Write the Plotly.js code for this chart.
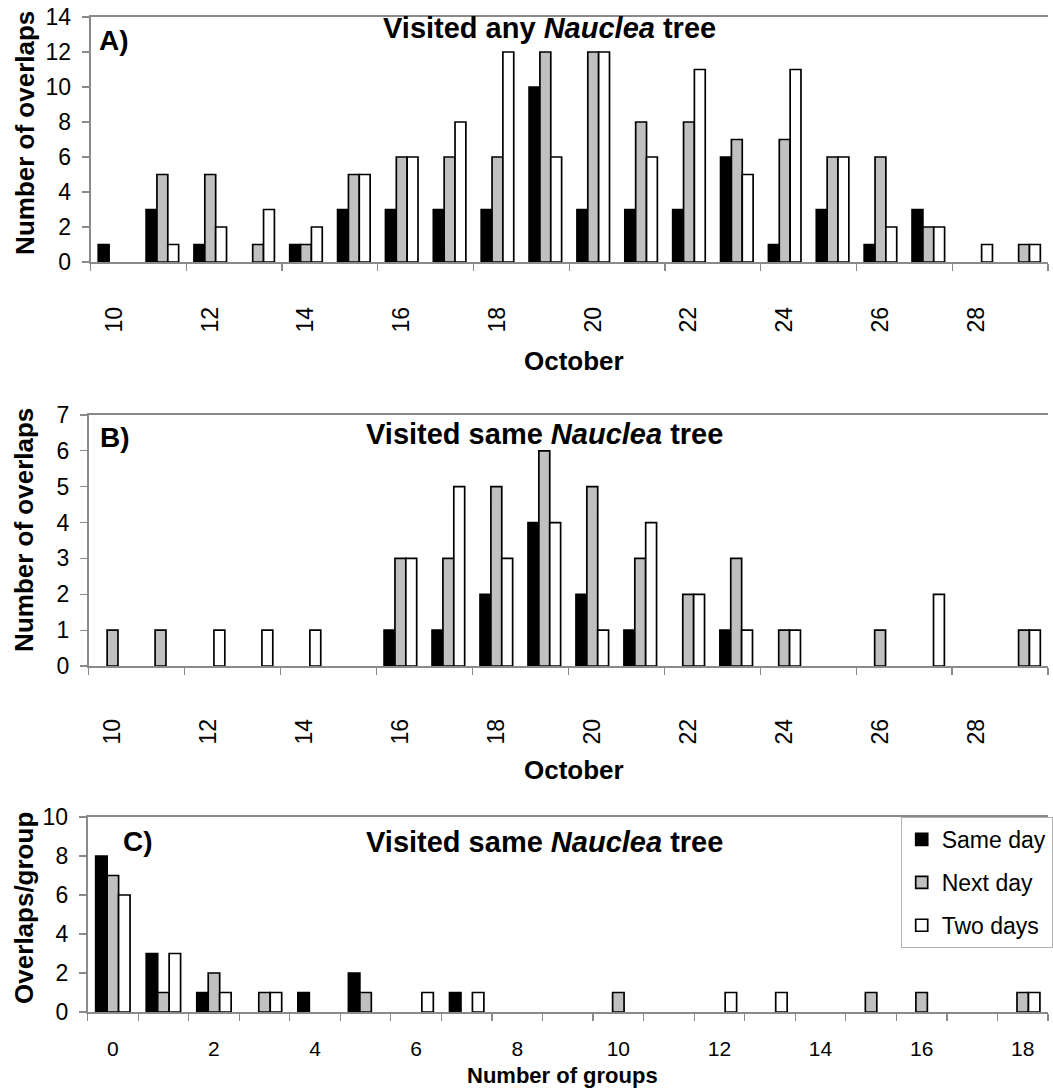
<!DOCTYPE html>
<html>
<head>
<meta charset="utf-8">
<script src="https://cdn.plot.ly/plotly-3.0.1.min.js"></script>
<style>html,body{margin:0;padding:0;background:#fff;}#chart{width:1053px;height:1090px;}</style>
</head>
<body>
<div id="chart"></div>
<script>
// ---- data ----
const days = [10,11,12,13,14,15,16,17,18,19,20,21,22,23,24,25,26,27,28,29];
const dayTicks = [10,12,14,16,18,20,22,24,26,28];

// A) Visited any Nauclea tree
const anySameDay = [1,3,1,0,1,3,3,3,3,10,3,3,3,6,1,3,1,3,0,0];
const anyNextDay = [0,5,5,1,1,5,6,6,6,12,12,8,8,7,7,6,6,2,0,1];
const anyTwoDays = [0,1,2,3,2,5,6,8,12,6,12,6,11,5,11,6,2,2,1,1];

// B) Visited same Nauclea tree
const sameSameDay = [0,0,0,0,0,0,1,1,2,4,2,1,0,1,0,0,0,0,0,0];
const sameNextDay = [1,1,0,0,0,0,3,3,5,6,5,3,2,3,1,0,1,0,0,1];
const sameTwoDays = [0,0,1,1,1,0,3,5,3,4,1,4,2,1,1,0,0,2,0,1];

// C) Overlaps per group
const groups = [0,1,2,3,4,5,6,7,8,9,10,11,12,13,14,15,16,17,18];
const groupTicks = [0,2,4,6,8,10,12,14,16,18];
const grpSameDay = [8,3,1,0,1,2,0,1,0,0,0,0,0,0,0,0,0,0,0];
const grpNextDay = [7,1,2,1,0,1,0,0,0,0,1,0,0,0,0,1,1,0,1];
const grpTwoDays = [6,3,1,1,0,0,1,1,0,0,0,0,1,1,0,0,0,0,1];

const seriesNames = ["Same day","Next day","Two days"];
const seriesColors = ["#000000","#c0c0c0","#ffffff"];

// ---- layout helpers ----
const W = 1053, H = 1090;
const px = x => x / W;
const py = y => 1 - y / H;
const FONT = "Liberation Sans, Arial, Helvetica, sans-serif";
const AX = "#8a8a8a";

function barTrace(x, y, i, xa, ya, legend) {
  return {
    type: "bar", x: x, y: y.map(v => v === 0 ? null : v), name: seriesNames[i],
    xaxis: xa, yaxis: ya,
    marker: {color: seriesColors[i], line: {color: "#000", width: 1.7}},
    showlegend: legend, legendgroup: "g" + i,
    hoverinfo: "skip"
  };
}

const traces = [
  barTrace(days, anySameDay, 0, "x", "y", false),
  barTrace(days, anyNextDay, 1, "x", "y", false),
  barTrace(days, anyTwoDays, 2, "x", "y", false),
  barTrace(days, sameSameDay, 0, "x2", "y2", false),
  barTrace(days, sameNextDay, 1, "x2", "y2", false),
  barTrace(days, sameTwoDays, 2, "x2", "y2", false),
  barTrace(groups, grpSameDay, 0, "x3", "y3", true),
  barTrace(groups, grpNextDay, 1, "x3", "y3", true),
  barTrace(groups, grpTwoDays, 2, "x3", "y3", true)
];

function range(a, b, step) { const r = []; for (let v = a; v <= b + 1e-9; v += step) r.push(v); return r; }

function xAxis(domL, first, last, tickvals, minorStep, angle, standoff, anchor, fs) {
  return {
    domain: [px(domL), 1], anchor: anchor,
    range: [first - 0.5, last + 0.5],
    tickmode: "array", tickvals: tickvals, ticktext: tickvals.map(String),
    ticks: "", tickangle: angle, ticklabelstandoff: standoff,
    tickfont: {family: FONT, size: fs, color: "#000"},
    minor: {tickmode: "array", tickvals: range(first - 0.5, last + 0.5, minorStep),
            ticks: "outside", ticklen: 7, tickcolor: AX, tickwidth: 1.2},
    showline: true, linecolor: AX, linewidth: 1.8, mirror: true,
    showgrid: false, zeroline: false, fixedrange: true
  };
}
function yAxis(top, bottom, maxV, dt, anchor) {
  return {
    domain: [py(bottom), py(top)], anchor: anchor,
    range: [0, maxV], tickmode: "linear", tick0: 0, dtick: dt,
    ticks: "outside", ticklen: 7, tickcolor: AX, tickwidth: 1.2,
    ticklabelstandoff: 6,
    tickfont: {family: FONT, size: 23, color: "#000"},
    showline: true, linecolor: AX, linewidth: 1.8, mirror: false,
    showgrid: false, zeroline: false, fixedrange: true
  };
}

const bold = s => "<b>" + s + "</b>";
function ann(text, x, y, size, xanchor, angle) {
  return {
    text: text, xref: "paper", yref: "paper", x: px(x), y: py(y),
    xanchor: xanchor || "center", yanchor: "middle", showarrow: false,
    textangle: angle || 0, font: {family: FONT, size: size, color: "#000"}
  };
}

const layout = {
  width: W, height: H,
  margin: {l: 0, r: 0, t: 0, b: 0, pad: 0},
  paper_bgcolor: "#fff", plot_bgcolor: "#fff",
  barmode: "group", bargap: 0.32, bargroupgap: 0,
  xaxis: xAxis(91, 10, 29, dayTicks, 2, -90, 34, "y", 23),
  yaxis: yAxis(17, 262, 14, 2, "x"),
  xaxis2: xAxis(89, 10, 29, dayTicks, 2, -90, 42, "y2", 23),
  yaxis2: yAxis(415, 666, 7, 1, "x2"),
  xaxis3: xAxis(88, 0, 18, groupTicks, 1, 0, 17, "y3", 21),
  yaxis3: yAxis(817, 1012, 10, 2, "x3"),
  showlegend: true,
  legend: {
    x: px(905), y: py(817), xanchor: "left", yanchor: "top",
    bgcolor: "#fff", bordercolor: "#b0b0b0", borderwidth: 1,
    font: {family: FONT, size: 23, color: "#000"},
    tracegroupgap: 10, traceorder: "grouped"
  },
  annotations: [
    ann(bold("A)"), 97, 40, 28, "left"),
    ann(bold("Visited any <i>Nauclea</i> tree"), 552, 28, 29),
    ann(bold("Number of overlaps"), 25, 133, 26, "center", -90),
    ann(bold("October"), 577, 361, 26),
    ann(bold("B)"), 98, 437, 28, "left"),
    ann(bold("Visited same <i>Nauclea</i> tree"), 547, 434, 29),
    ann(bold("Number of overlaps"), 24, 530, 26, "center", -90),
    ann(bold("October"), 577, 770, 26),
    ann(bold("C)"), 122, 841, 28, "left"),
    ann(bold("Visited same <i>Nauclea</i> tree"), 547, 842, 29),
    ann(bold("Overlaps/group"), 24, 908, 26, "center", -90),
    ann(bold("Number of groups"), 565, 1075, 22)
  ]
};

Plotly.newPlot("chart", traces, layout, {staticPlot: true, displayModeBar: false});
</script>
</body>
</html>
